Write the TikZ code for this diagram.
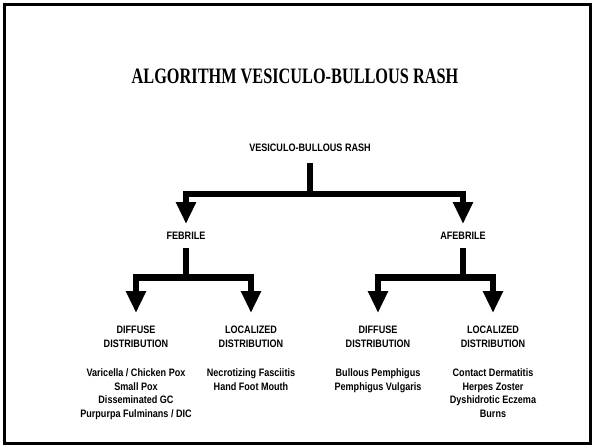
\documentclass[tikz,border=0pt]{standalone}
\usepackage{fontspec}
\usepackage{tikz}
\usetikzlibrary{arrows.meta, positioning}

\newfontfamily\titlefont[FakeStretch=0.74]{Liberation Serif}
\newfontfamily\labelfont[FakeStretch=0.84]{Liberation Sans}

\begin{document}
\begin{tikzpicture}[
    x=1pt, y=-1pt,
    heading/.style={
        font=\titlefont\bfseries\fontsize{22}{26}\selectfont,
        inner sep=0pt
    },
    choice/.style={
        font=\labelfont\bfseries\fontsize{10.8}{13.7}\selectfont,
        align=center,
        inner xsep=2pt,
        inner ysep=8pt
    },
    dist/.style={
        choice,
        inner ysep=13pt
    },
    items/.style={
        font=\labelfont\bfseries\fontsize{10.8}{13.5}\selectfont,
        align=center,
        inner sep=2pt
    },
    frame/.style={draw=black, line width=2.5pt},
    arrow/.style={-{Triangle[width=19pt,length=22pt]}, line width=6.5pt}
]

\useasboundingbox (0,0) rectangle (592,445);
\draw[frame] (4.3,4.5) rectangle (590.5,443.3);

\node[heading] (title) at (295,76) {ALGORITHM VESICULO-BULLOUS RASH};

\node[choice, anchor=south, inner ysep=11pt] (root) at (310,163) {VESICULO-BULLOUS RASH};

\coordinate (split1) at (310,194);

\node[choice, anchor=north] (febrile) at (186,224) {FEBRILE};
\node[choice, anchor=north] (afebrile) at (463,224) {AFEBRILE};

\coordinate (split2) at (186,277.5);
\coordinate (split3) at (463,277.5);

\node[dist, anchor=north] (fdiffuse) at (136,313) {DIFFUSE\\DISTRIBUTION};
\node[dist, anchor=north] (flocal) at (251,313) {LOCALIZED\\DISTRIBUTION};
\node[dist, anchor=north] (adiffuse) at (378,313) {DIFFUSE\\DISTRIBUTION};
\node[dist, anchor=north] (alocal) at (493,313) {LOCALIZED\\DISTRIBUTION};

\node[items, below=6pt of fdiffuse] (fdifflist) {Varicella / Chicken Pox\\Small Pox\\Disseminated GC\\Purpurpa Fulminans / DIC};
\node[items, below=6pt of flocal] (floclist) {Necrotizing Fasciitis\\Hand Foot Mouth};
\node[items, below=6pt of adiffuse] (adifflist) {Bullous Pemphigus\\Pemphigus Vulgaris};
\node[items, below=6pt of alocal] (aloclist) {Contact Dermatitis\\Herpes Zoster\\Dyshidrotic Eczema\\Burns};

\draw[arrow] (root) -- (split1) -| (febrile);
\draw[arrow] (split1) -| (afebrile);

\draw[arrow] (febrile) -- (split2) -| (fdiffuse);
\draw[arrow] (split2) -| (flocal);

\draw[arrow] (afebrile) -- (split3) -| (adiffuse);
\draw[arrow] (split3) -| (alocal);

\end{tikzpicture}
\end{document}
